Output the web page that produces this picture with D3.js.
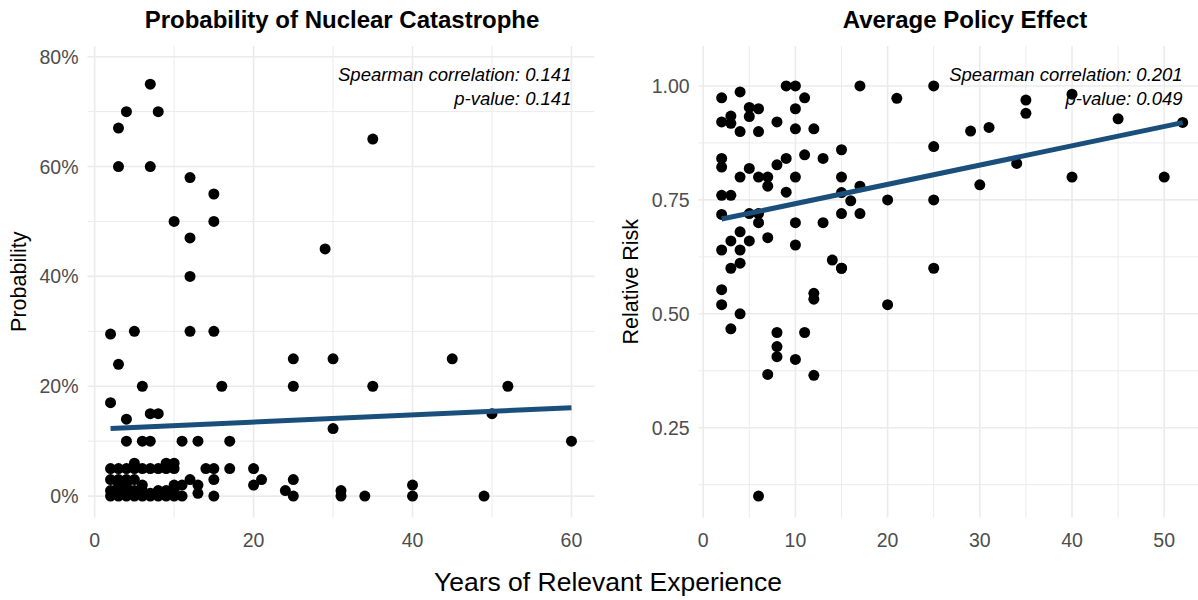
<!DOCTYPE html>
<html><head><meta charset="utf-8">
<script src="https://cdn.jsdelivr.net/npm/d3@7"></script>
<style>
body{margin:0;background:#fff;}
text{font-family:"Liberation Sans",Arial,sans-serif;}
</style></head>
<body><svg id="c" width="1198" height="600"></svg>
<script>
// ---- Data: left panel (Probability of Nuclear Catastrophe)
const leftYears = [7,4,8,3,3,7,35,12,15,10,15,12,29,12,
  2,5,12,15,3,25,30,45,
  6,16,25,35,52,
  2,7,8,50,4,30,
  4,6,7,11,13,17,60,
  2,3,4,5,6,7,8,9,10,14,15,17,20,
  5,9,10,
  2,3,4,5,12,15,21,25,
  3,4,6,10,11,13,20,40,
  2,4,5,6,8,9,10,24,31,
  2,3,3,4,5,6,7,7,8,9,10,11,13,15,25,31,34,40,49];
const leftProb = [0.75,0.70,0.70,0.67,0.60,0.60,0.65,0.58,0.55,0.50,0.50,0.47,0.45,0.40,
  0.295,0.30,0.30,0.30,0.24,0.25,0.25,0.25,
  0.20,0.20,0.20,0.20,0.20,
  0.17,0.15,0.15,0.15,0.14,0.123,
  0.10,0.10,0.10,0.10,0.10,0.10,0.10,
  0.05,0.05,0.05,0.05,0.05,0.05,0.05,0.05,0.05,0.05,0.05,0.05,0.05,
  0.06,0.06,0.06,
  0.03,0.03,0.03,0.03,0.03,0.03,0.03,0.03,
  0.02,0.02,0.02,0.02,0.02,0.02,0.02,0.02,
  0.01,0.01,0.01,0.01,0.01,0.01,0.01,0.01,0.01,
  0,0,0.005,0,0,0,0,0.005,0,0,0,0,0.005,0,0,0,0,0,0];
const leftFit = {intercept: 0.1217, slope: 0.000655};
const leftStats = ["Spearman correlation: 0.141", "p-value: 0.141"];
const leftXTicks = [0,20,40,60];
const leftYTicks = [0,0.2,0.4,0.6,0.8];

// ---- Data: right panel (Average Policy Effect)
const rightYears = [2,4,5,6,3,2,3,5,4,6,8,9,10,11,10,10,12,17,
  2,2,4,5,6,7,7,8,9,11,13,15,10,15,9,2,3,15,16,17,
  2,5,6,6,10,13,15,17,4,3,5,4,2,7,10,4,3,14,15,
  2,2,4,3,12,12,8,11,8,8,10,7,12,
  25,21,35,35,40,45,52,29,31,25,30,34,40,50,20,25,15,25,20,6];
const rightRisk = [0.974,0.987,0.953,0.950,0.934,0.921,0.918,0.933,0.90,0.90,0.921,1.0,1.0,0.974,0.950,0.906,0.906,1.0,
  0.841,0.822,0.80,0.819,0.80,0.80,0.78,0.827,0.841,0.849,0.841,0.86,0.80,0.80,0.767,0.76,0.76,0.766,0.748,0.78,
  0.718,0.72,0.72,0.70,0.70,0.70,0.72,0.72,0.68,0.66,0.66,0.64,0.64,0.667,0.651,0.611,0.60,0.618,0.60,
  0.553,0.52,0.50,0.467,0.545,0.532,0.459,0.459,0.428,0.406,0.40,0.367,0.365,
  1.0,0.973,0.969,0.940,0.982,0.928,0.92,0.901,0.909,0.867,0.783,0.830,0.80,0.80,0.75,0.75,0.60,0.60,0.52,0.10];
const rightFit = {intercept: 0.6995, slope: 0.00423};
const rightStats = ["Spearman correlation: 0.201", "p-value: 0.049"];
const rightXTicks = [0,10,20,30,40,50];
const rightYTicks = [0.25,0.5,0.75,1.0];

const titles = ["Probability of Nuclear Catastrophe", "Average Policy Effect"];
const yTitles = ["Probability", "Relative Risk"];
const xTitle = "Years of Relevant Experience";

// ---- Drawing
const svg = d3.select("#c");
const gridCol = "#ebebeb", tickCol = "#4d4d4d", lineCol = "#1b4f7b";

function panel(cfg){
  const {x, y, xs, ys, xTicks, yTicks, xMinor, yMinor, fit, stats, title, yTitle, titleX, yTitleX, yFmt} = cfg;
  const g = svg.append("g");
  const [x0,x1] = x.range(), [y0,y1] = y.range();
  g.selectAll(".vmin").data(xMinor).join("line")
    .attr("x1",d=>x(d)).attr("x2",d=>x(d)).attr("y1",y0).attr("y2",y1)
    .attr("stroke",gridCol).attr("stroke-width",1);
  g.selectAll(".hmin").data(yMinor).join("line")
    .attr("y1",d=>y(d)).attr("y2",d=>y(d)).attr("x1",x0).attr("x2",x1)
    .attr("stroke",gridCol).attr("stroke-width",1);
  g.selectAll(".vmaj").data(xTicks).join("line")
    .attr("x1",d=>x(d)).attr("x2",d=>x(d)).attr("y1",y0).attr("y2",y1)
    .attr("stroke",gridCol).attr("stroke-width",1.6);
  g.selectAll(".hmaj").data(yTicks).join("line")
    .attr("y1",d=>y(d)).attr("y2",d=>y(d)).attr("x1",x0).attr("x2",x1)
    .attr("stroke",gridCol).attr("stroke-width",1.6);
  g.selectAll(".xl").data(xTicks).join("text")
    .attr("x",d=>x(d)).attr("y",y0+29).attr("text-anchor","middle")
    .attr("font-size",19.5).attr("fill",tickCol).text(d=>d);
  g.selectAll(".yl").data(yTicks).join("text")
    .attr("x",x0-9).attr("y",d=>y(d)+7).attr("text-anchor","end")
    .attr("font-size",19.5).attr("fill",tickCol).text(yFmt);
  const pts = xs.map((v,i)=>[v, ys[i]]);
  g.selectAll(".pt").data(pts).join("circle")
    .attr("cx",d=>x(d[0])).attr("cy",d=>y(d[1])).attr("r",5.5).attr("fill","#000");
  const ext = d3.extent(xs);
  g.append("line")
    .attr("x1",x(ext[0])).attr("y1",y(fit.intercept+fit.slope*ext[0]))
    .attr("x2",x(ext[1])).attr("y2",y(fit.intercept+fit.slope*ext[1]))
    .attr("stroke",lineCol).attr("stroke-width",5);
  g.selectAll(".st").data(stats).join("text")
    .attr("x",x(ext[1])).attr("y",(d,i)=>80.5+i*24).attr("text-anchor","end")
    .attr("font-size",18.5).attr("font-style","italic").attr("fill","#000").text(d=>d);
  g.append("text").attr("x",titleX).attr("y",28).attr("text-anchor","middle")
    .attr("font-size",24).attr("font-weight","bold").text(title);
  g.append("text").attr("transform",`translate(${yTitleX},${(y0+y1)/2}) rotate(-90)`)
    .attr("text-anchor","middle").attr("font-size",21.5).text(yTitle);
}

const xL = d3.scaleLinear().domain([-0.9, 62.9]).range([87.5, 594.5]);
const yL = d3.scaleLinear().domain([-0.039, 0.8195]).range([517.5, 46]);
panel({x:xL, y:yL, xs:leftYears, ys:leftProb, xTicks:leftXTicks, yTicks:leftYTicks,
  xMinor:[10,30,50], yMinor:[0.1,0.3,0.5,0.7], fit:leftFit, stats:leftStats,
  title:titles[0], yTitle:yTitles[0], titleX:342, yTitleX:26, yFmt:d3.format(".0%")});

const xR = d3.scaleLinear().domain([-0.5, 54.5]).range([698.6, 1205.7]);
const yR = d3.scaleLinear().domain([0.053, 1.0877]).range([517.5, 46]);
panel({x:xR, y:yR, xs:rightYears, ys:rightRisk, xTicks:rightXTicks, yTicks:rightYTicks,
  xMinor:[5,15,25,35,45], yMinor:[0.125,0.375,0.625,0.875], fit:rightFit, stats:rightStats,
  title:titles[1], yTitle:yTitles[1], titleX:965, yTitleX:638, yFmt:d3.format(".2f")});

svg.append("text").attr("x",608).attr("y",591).attr("text-anchor","middle")
  .attr("font-size",26.5).text(xTitle);
</script></body></html>
